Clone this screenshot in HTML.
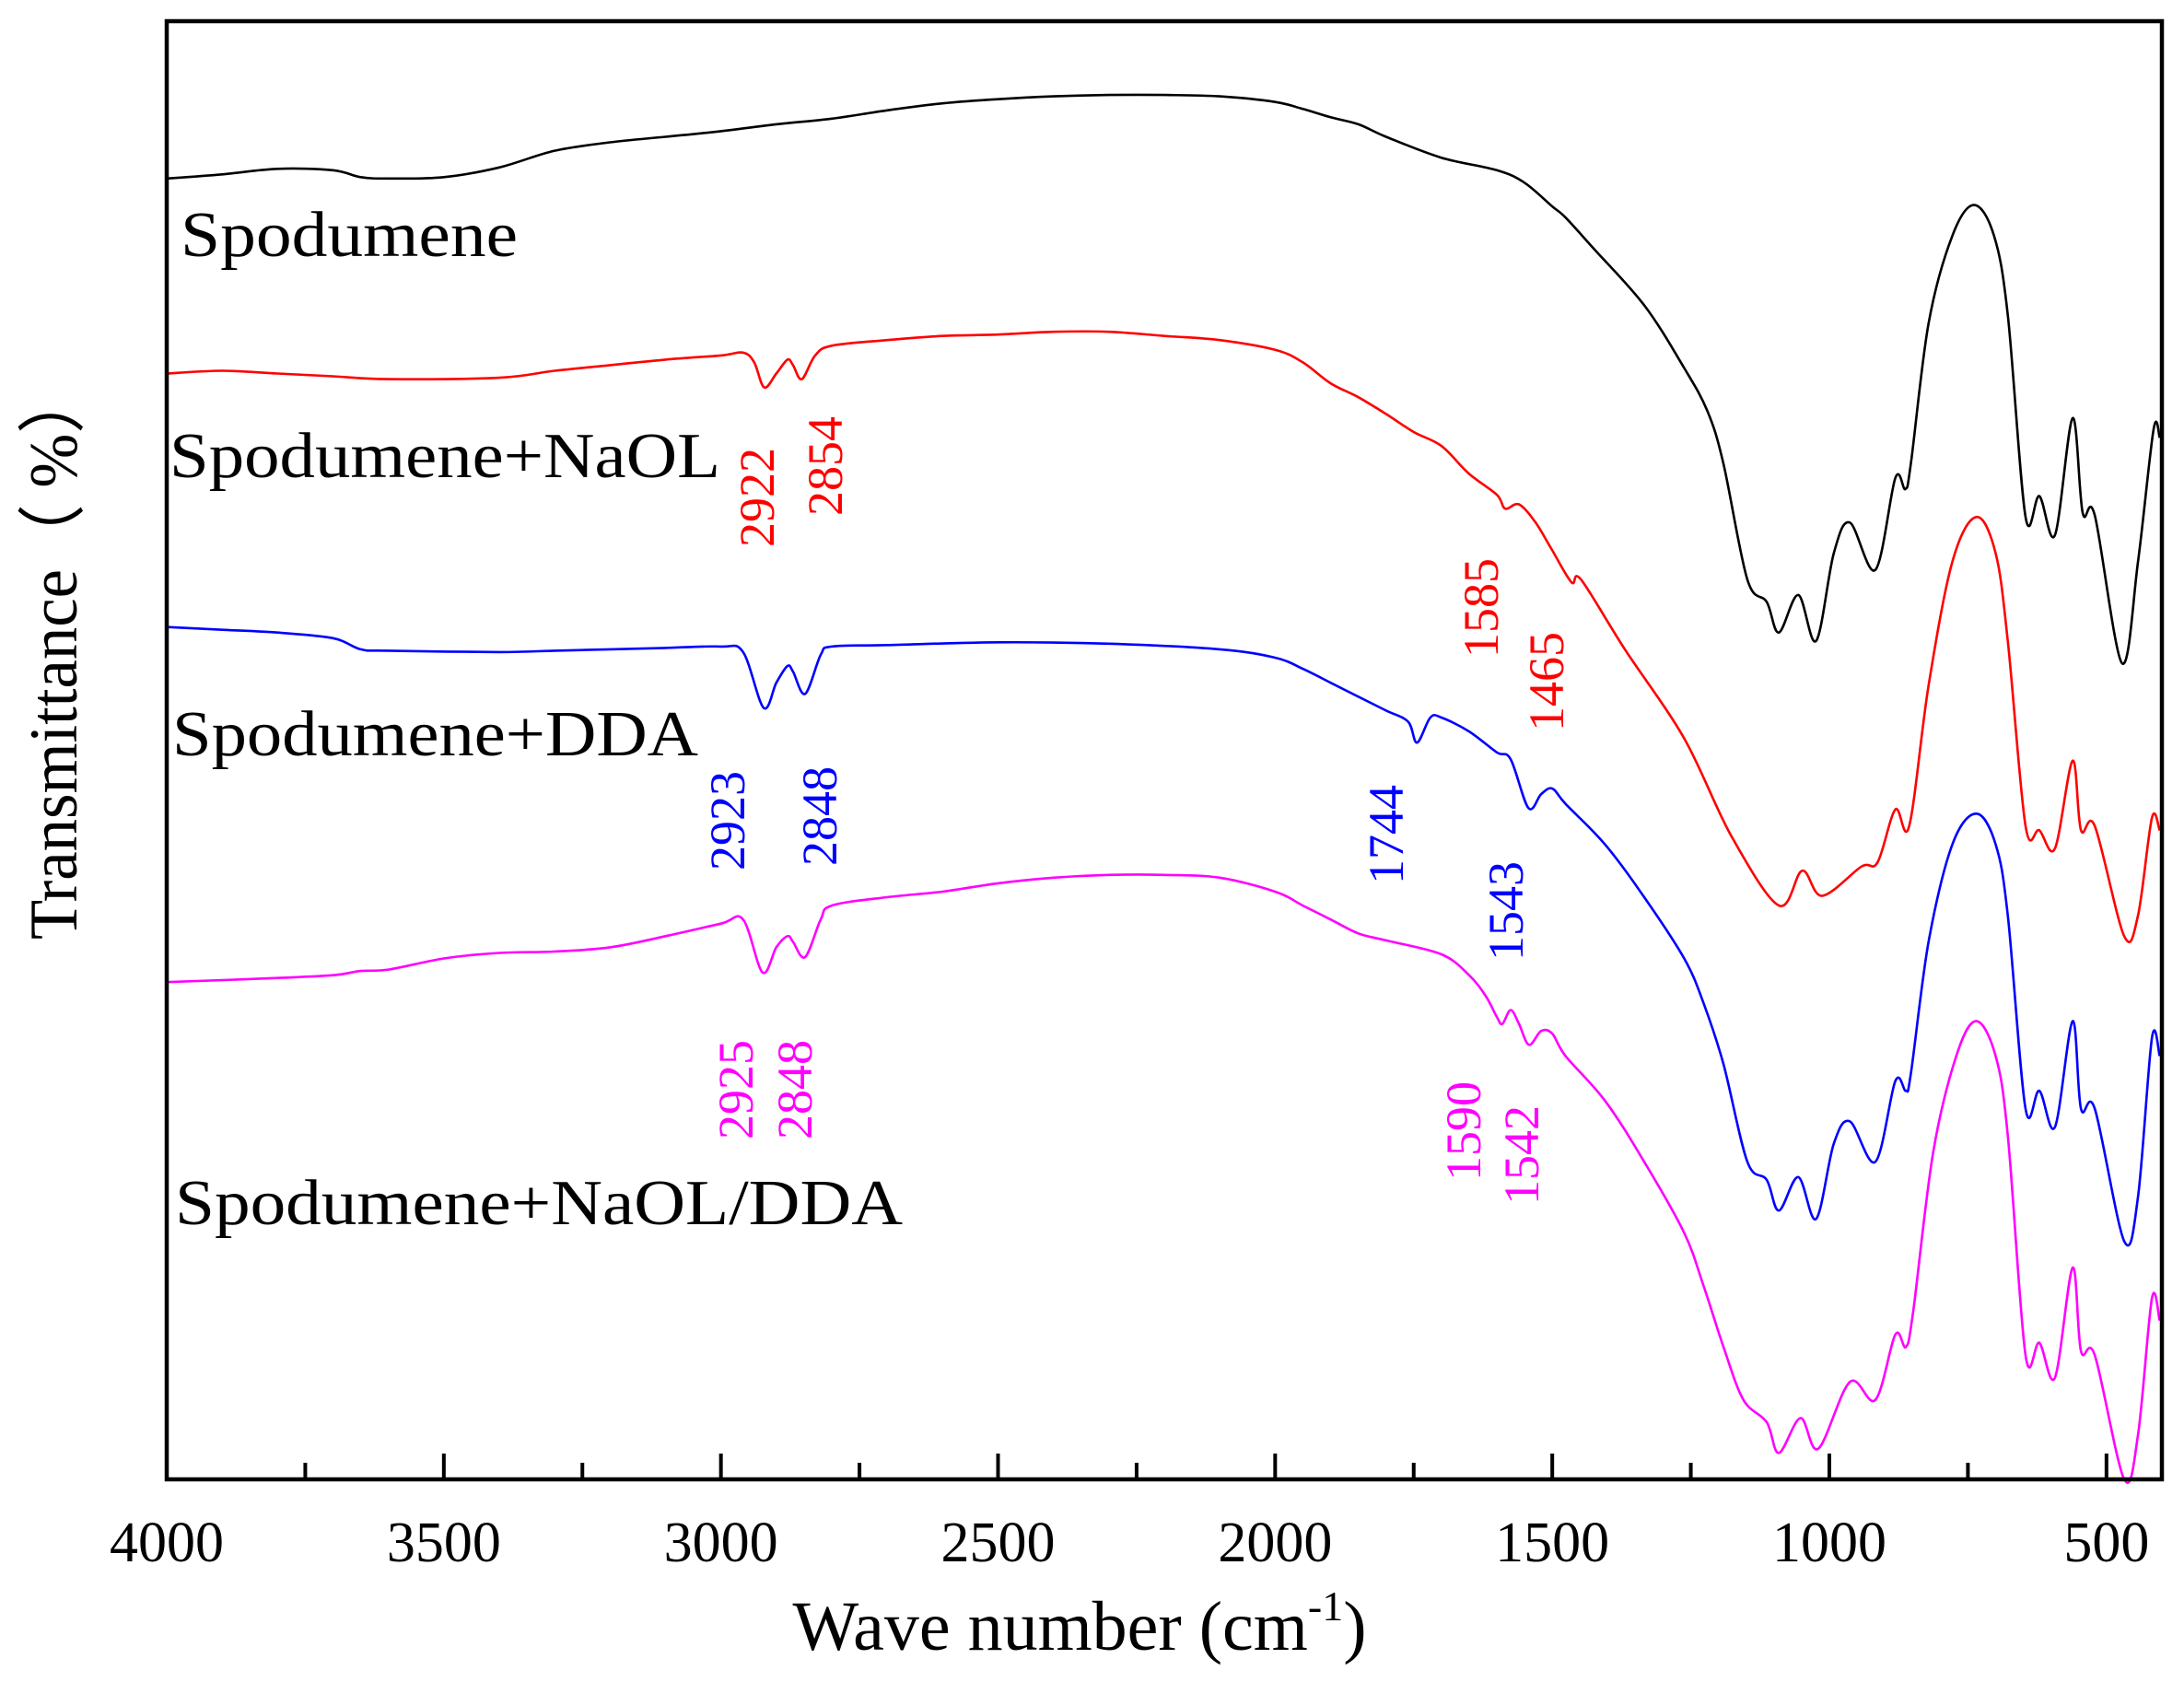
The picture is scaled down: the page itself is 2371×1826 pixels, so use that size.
<!DOCTYPE html>
<html><head><meta charset="utf-8"><style>
html,body{margin:0;padding:0;background:#fff;}
svg{display:block;}
text{font-family:"Liberation Serif",serif;}
</style></head><body>
<svg id="chart" width="2371" height="1826" viewBox="0 0 2371 1826" xmlns="http://www.w3.org/2000/svg">
<rect x="0" y="0" width="2371" height="1826" fill="#fff"/>
<g id="series"></g>
<rect x="181" y="23" width="2166" height="1583" fill="none" stroke="#000" stroke-width="4.5"/>
<g id="ticks"></g>
<text x="1172" y="1791" font-size="76" text-anchor="middle">Wave number (cm<tspan font-size="46" dy="-32">-1</tspan><tspan dy="32">)</tspan></text>
<text transform="translate(83,1020) rotate(-90)" font-size="74" textLength="620" lengthAdjust="spacingAndGlyphs">Transmittance（ %）</text>

<text x="196" y="278" font-size="70" textLength="366" lengthAdjust="spacingAndGlyphs">Spodumene</text>
<text x="184" y="518" font-size="70" textLength="598" lengthAdjust="spacingAndGlyphs">Spodumene+NaOL</text>
<text x="187" y="820" font-size="70" textLength="571" lengthAdjust="spacingAndGlyphs">Spodumene+DDA</text>
<text x="190" y="1329" font-size="70" textLength="790" lengthAdjust="spacingAndGlyphs">Spodumene+NaOL/DDA</text>
<g id="peaks"></g>
</svg>
<script>
// x: wavenumber (cm-1); y: inverted transmittance offset (a.u., larger = lower on chart)
const xTicksMajor = [4000,3500,3000,2500,2000,1500,1000,500];
const xTicksMinor = [3750,3250,2750,2250,1750,1250,750];
const blackWn = [4000,3900,3800,3700,3650,3600,3500,3400,3300,3200,3100,3000,2900,2800,2700,2600,2500,2400,2300,2200,2100,2000,1950,1900,1850,1800,1700,1600,1550,1500,1476,1426,1334,1262,1220,1191,1148,1113,1091,1056,1024,992,963,917,881,863,853,821,778,739,703,678,646,621,593,561,543,521,472,443,415,404];
const blackY  = [128,125,121,122,127,128,127,120,108,102,98,94,89,85,79,74,71,69,68,68,69,73,78,84,89,98,113,122,131,148,156,178,219,264,295,333,416,432,454,427,460,397,375,409,343,351,333,232,169,147,169,226,371,356,384,300,368,370,476,403,308,314];
const redWn = [4000,3900,3800,3700,3600,3400,3300,3200,3100,3000,2960,2940,2922,2900,2880,2870,2854,2830,2800,2700,2600,2500,2400,2300,2200,2100,2000,1950,1900,1850,1800,1750,1700,1650,1600,1585,1560,1530,1500,1465,1448,1369,1262,1177,1091,1049,1013,942,913,881,856,821,778,735,700,678,646,621,593,561,546,521,468,443,418,404];
const redY  = [268,266,268,270,272,271,266,262,258,255,253,260,278,268,258,262,272,255,248,244,241,240,238,238,241,244,251,260,275,285,297,310,320,340,355,365,362,375,395,418,416,466,530,600,650,625,643,622,619,581,593,492,403,371,397,460,593,596,609,546,596,593,672,657,587,596];
const blueWn = [4000,3900,3800,3700,3650,3600,3400,3300,3200,3100,3000,2960,2923,2900,2880,2870,2848,2820,2800,2700,2500,2300,2100,2000,1950,1900,1850,1800,1760,1744,1720,1700,1650,1600,1575,1543,1520,1500,1476,1405,1334,1262,1227,1191,1148,1113,1091,1056,1024,992,963,917,881,862,853,821,778,735,700,678,646,621,593,561,546,521,468,443,418,404];
const blueY  = [450,452,454,458,466,467,468,467,466,465,464,468,508,490,478,482,498,470,464,463,461,462,466,472,480,490,500,510,518,533,515,515,525,540,545,580,570,566,577,606,644,688,720,764,834,847,869,845,875,821,805,834,776,783,771,676,606,584,606,657,796,783,809,733,796,796,891,859,745,758];
const magWn = [4000,3800,3700,3650,3600,3500,3400,3300,3200,3100,3000,2960,2925,2900,2880,2870,2848,2820,2800,2700,2600,2500,2400,2300,2200,2100,2000,1950,1900,1850,1800,1700,1650,1620,1600,1590,1575,1560,1542,1520,1500,1476,1405,1334,1262,1227,1191,1155,1113,1091,1052,1020,963,917,881,862,849,813,771,735,700,678,646,621,593,561,546,521,468,443,418,404];
const magY  = [705,702,700,697,696,688,684,683,680,672,663,660,698,680,672,676,687,660,650,644,640,634,630,628,628,630,640,650,660,670,675,685,700,715,730,735,725,735,750,740,742,758,790,834,885,923,967,1005,1021,1043,1018,1040,992,1005,958,967,942,828,758,733,758,815,973,964,989,910,970,973,1062,1030,932,948];
const peakText = ["2922","2854","1585","1465","2923","2848","1744","1543","2925","2848","1590","1542"];
const peakColor = ["#ff0000","#ff0000","#ff0000","#ff0000","#0000ff","#0000ff","#0000ff","#0000ff","#ff00ff","#ff00ff","#ff00ff","#ff00ff"];

const NS="http://www.w3.org/2000/svg";
const xScale = w => 181 + (4000 - w) * (2166/3600);
const yScale = v => 23 + (v - 15) * (1583/1047);

function smoothPath(xs, ys){
  const p = xs.map((w,i)=>[xScale(w), yScale(ys[i])]);
  let d = "M"+p[0][0].toFixed(1)+","+p[0][1].toFixed(1);
  for(let i=0;i<p.length-1;i++){
    const p0=p[Math.max(0,i-1)], p1=p[i], p2=p[i+1], p3=p[Math.min(p.length-1,i+2)];
    const c1x=p1[0]+(p2[0]-p0[0])/6, c1y=p1[1]+(p2[1]-p0[1])/6;
    const c2x=p2[0]-(p3[0]-p1[0])/6, c2y=p2[1]-(p3[1]-p1[1])/6;
    d+=" C"+c1x.toFixed(1)+","+c1y.toFixed(1)+" "+c2x.toFixed(1)+","+c2y.toFixed(1)+" "+p2[0].toFixed(1)+","+p2[1].toFixed(1);
  }
  return d;
}
const sg=document.getElementById('series');
function addLine(xs, ys, color, name){
  const el=document.createElementNS(NS,'path');
  el.setAttribute('d', smoothPath(xs, ys));
  el.setAttribute('fill','none');
  el.setAttribute('stroke',color);
  el.setAttribute('stroke-width','2.6');
  
  
  sg.appendChild(el);
}
addLine(blackWn, blackY, '#000000', 'line-spodumene');
addLine(redWn, redY, '#ff0000', 'line-spodumene-naol');
addLine(blueWn, blueY, '#0000ff', 'line-spodumene-dda');
addLine(magWn, magY, '#ff00ff', 'line-spodumene-naol-dda');

const tg=document.getElementById('ticks');
xTicksMajor.forEach(t=>{
  const x=xScale(t);
  const l=document.createElementNS(NS,'line');
  l.setAttribute('x1',x);l.setAttribute('x2',x);l.setAttribute('y1',1606);l.setAttribute('y2',1578);
  l.setAttribute('stroke','#000');l.setAttribute('stroke-width','4');
  
  
  tg.appendChild(l);
  const tx=document.createElementNS(NS,'text');
  tx.setAttribute('x',x);tx.setAttribute('y',1695);tx.setAttribute('font-size','62');tx.setAttribute('text-anchor','middle');
  tx.textContent=String(t);
  
  
  tg.appendChild(tx);
});
xTicksMinor.forEach(t=>{
  const x=xScale(t);
  const l=document.createElementNS(NS,'line');
  l.setAttribute('x1',x);l.setAttribute('x2',x);l.setAttribute('y1',1606);l.setAttribute('y2',1588);
  l.setAttribute('stroke','#000');l.setAttribute('stroke-width','4');
  
  
  tg.appendChild(l);
});

// peak label placement (pixel layout, not data): [center x, bottom y]
const peakPos=[[821,594],[895,560],[1607,714],[1678,794],[789,945],[889,940],[1504,960],[1634,1043],[798,1237],[862,1237],[1588,1282],[1651,1308]];
const pg=document.getElementById('peaks');
peakText.forEach((s,i)=>{
  const [cx,by]=peakPos[i];
  const t=document.createElementNS(NS,'text');
  t.setAttribute('transform','translate('+(cx+19)+','+by+') rotate(-90)');
  t.setAttribute('font-size','54');
  t.setAttribute('fill',peakColor[i]);
  t.textContent=s;
  
  
  pg.appendChild(t);
});
</script>
</body></html>
